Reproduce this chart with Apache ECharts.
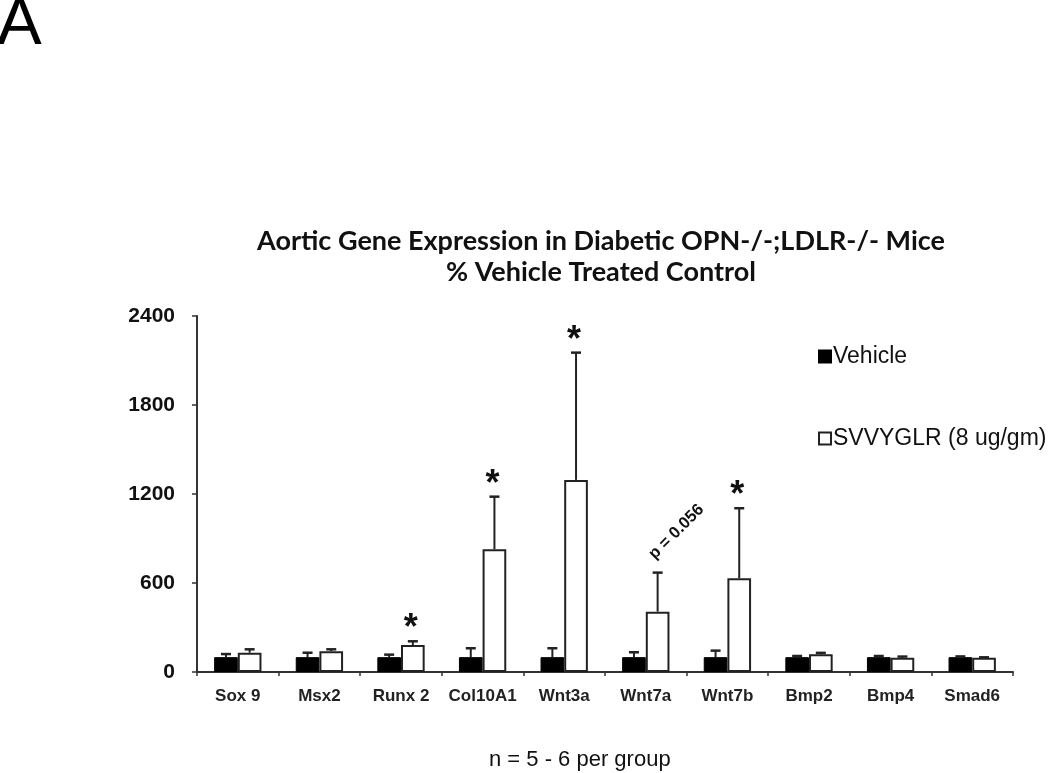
<!DOCTYPE html>
<html>
<head>
<meta charset="utf-8">
<script src="https://cdn.jsdelivr.net/npm/echarts@6/dist/echarts.min.js"></script>
<style>
html,body{margin:0;padding:0;background:#fff;}
#chart{width:1050px;height:773px;}
</style>
</head>
<body>
<div id="chart"></div>
<script>
var categories = ['Sox 9','Msx2','Runx 2','Col10A1','Wnt3a','Wnt7a','Wnt7b','Bmp2','Bmp4','Smad6'];
var vehicleValues = [100,100,100,100,100,100,100,100,100,100];
var vehicleErrors = [21,30,17,60,60,33,44,8,8,5];
var svvyglrValues = [130,140,182,827,1295,407,632,119,96,96];
var svvyglrErrors = [23,13,25,355,858,263,472,10,8,3];
var annotations = ['','','*','*','*','p = 0.056','*','','',''];
var yTicks = [0,600,1200,1800,2400];
var seriesNames = ['Vehicle','SVVYGLR (8 ug/gm)'];

var GAP = 0.42;
var chart = echarts.init(document.getElementById('chart'));

function errRender(side, vals, errs) {
  return function (params, api) {
    var i = api.value(0);
    var c = api.coord([i, vals[i]]);
    var top = api.coord([i, vals[i] + errs[i]]);
    var band = api.size([1, 0])[0];
    var bw = band * (1 - GAP) / 2;
    var x = c[0] + side * bw / 2;
    return {
      type: 'group',
      children: [
        {type: 'line', shape: {x1: x, y1: c[1], x2: x, y2: top[1]}, style: {stroke: '#222', lineWidth: 2}},
        {type: 'line', shape: {x1: x - 5, y1: top[1], x2: x + 5, y2: top[1]}, style: {stroke: '#222', lineWidth: 2.5}}
      ]
    };
  };
}

var idx = categories.map(function (c, i) { return [i]; });

var option = {
  backgroundColor: '#fff',
  animation: false,
  title: {
    text: 'Aortic Gene Expression in Diabetic OPN-/-;LDLR-/- Mice\n% Vehicle Treated Control',
    left: 596, top: 221, textAlign: 'center',
    textStyle: {fontFamily: 'Lato', fontWeight: 'bold', fontSize: 27, lineHeight: 31, color: '#111'}
  },
  legend: {
    orient: 'vertical', left: 813, top: 340, itemGap: 59,
    itemWidth: 12, itemHeight: 12, icon: 'rect',
    data: seriesNames,
    textStyle: {fontFamily: 'Liberation Sans', fontSize: 23, color: '#111', padding: [0, 0, 0, -3]}
  },
  grid: {left: 197, right: 37, top: 316, bottom: 101},
  xAxis: {
    type: 'category', data: categories,
    axisLine: {lineStyle: {color: '#333', width: 2}},
    axisTick: {show: true, length: 4, lineStyle: {color: '#333', width: 1.5}},
    axisLabel: {interval: 0, fontFamily: 'Liberation Sans', fontWeight: 'bold', fontSize: 17, color: '#222', margin: 16}
  },
  yAxis: {
    type: 'value', min: 0, max: 2400, interval: 600,
    axisLine: {show: true, lineStyle: {color: '#333', width: 2}},
    axisTick: {show: true, length: 5, lineStyle: {color: '#333', width: 1.5}},
    splitLine: {show: false},
    axisLabel: {fontFamily: 'Liberation Sans', fontWeight: 'bold', fontSize: 21, color: '#111', margin: 22,
      formatter: function (v) { return yTicks.indexOf(v) >= 0 ? String(v) : ''; }}
  },
  series: [
    {name: seriesNames[0], type: 'bar', data: vehicleValues, barGap: '0%', barCategoryGap: (GAP * 100) + '%',
      itemStyle: {color: '#000', borderColor: '#000', borderWidth: 1}, z: 2},
    {name: seriesNames[1], type: 'bar', data: svvyglrValues, barGap: '0%', barCategoryGap: (GAP * 100) + '%',
      itemStyle: {color: '#fff', borderColor: '#222', borderWidth: 2}, z: 2},
    {type: 'custom', data: idx, renderItem: errRender(-1, vehicleValues, vehicleErrors), z: 3, silent: true},
    {type: 'custom', data: idx, renderItem: errRender(1, svvyglrValues, svvyglrErrors), z: 3, silent: true},
    {type: 'custom', data: idx, z: 4, silent: true,
      renderItem: function (params, api) {
        var i = api.value(0);
        var t = annotations[i];
        if (!t) return null;
        var top = api.coord([i, svvyglrValues[i] + svvyglrErrors[i]]);
        var band = api.size([1, 0])[0];
        var bw = band * (1 - GAP) / 2;
        var x = top[0] + bw / 2;
        if (t === '*') {
          return {type: 'text', x: x - 2, y: top[1] - 12,
            style: {text: t, fontFamily: 'Liberation Sans', fontWeight: 'bold', fontSize: 36, fill: '#111',
              align: 'center', verticalAlign: 'middle'}};
        }
        return {type: 'text', x: x - 6, y: top[1] - 16, rotation: Math.PI / 4,
          style: {text: t, fontFamily: 'Liberation Sans', fontWeight: 'bold', fontSize: 16.5, fill: '#111',
            align: 'left', verticalAlign: 'middle'}};
      }}
  ],
  graphic: [
    {type: 'text', left: -3, top: -8, style: {text: 'A', fontFamily: 'Liberation Sans', fontSize: 67, fill: '#000'}},
    {type: 'text', left: 489, top: 749, style: {text: 'n = 5 - 6 per group', fontFamily: 'Liberation Sans', fontSize: 22, fill: '#111'}}
  ]
};
chart.setOption(option);
</script>
</body>
</html>
